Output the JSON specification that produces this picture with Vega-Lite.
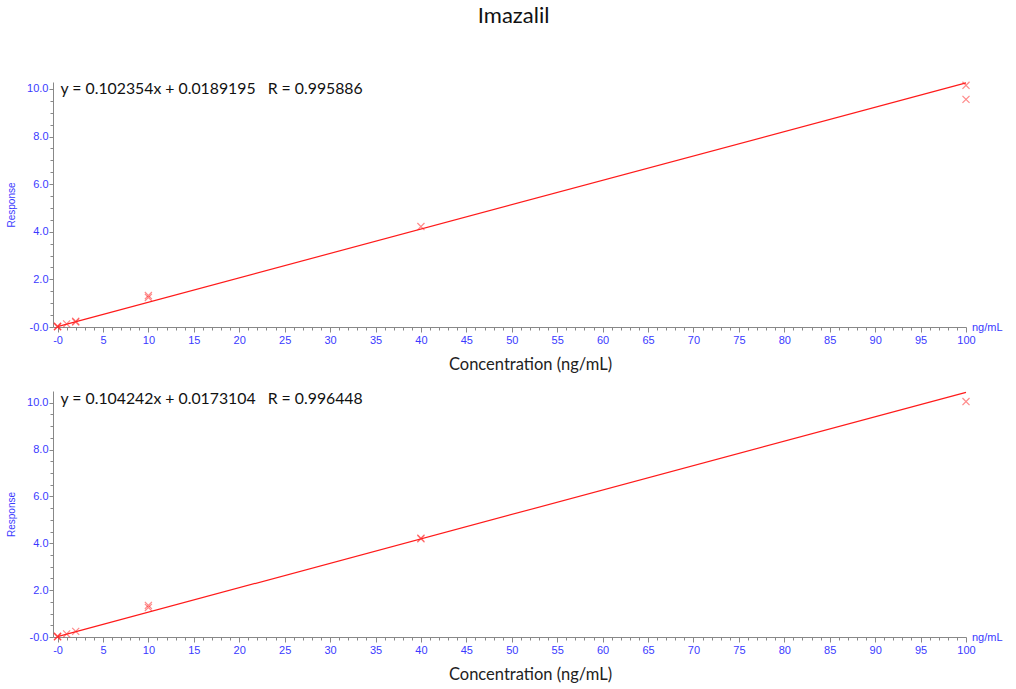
{
  "$schema": "https://vega.github.io/schema/vega-lite/v6.json",
  "background": "white",
  "padding": {"left": 6, "top": 5, "right": 5, "bottom": 5},
  "title": {
    "text": "Imazalil",
    "font": "Lato",
    "fontSize": 22,
    "fontWeight": "normal",
    "color": "#111111",
    "anchor": "middle",
    "dx": 9,
    "offset": 51
  },
  "config": {
    "view": {"stroke": null},
    "axis": {
      "grid": false,
      "domainColor": "#888888",
      "tickColor": "#888888",
      "labelColor": "#3a3aff",
      "labelFont": "Liberation Sans",
      "labelFontSize": 11,
      "labelFlush": false
    }
  },
  "spacing": 16,
  "vconcat": [
    {
      "width": 913,
      "height": 245,
      "data": {
        "values": [
          {"conc": 0, "resp": 0.01, "kind": "std"},
          {"conc": 0, "resp": 0.02, "kind": "std"},
          {"conc": 0, "resp": 0.03, "kind": "std"},
          {"conc": 1, "resp": 0.13, "kind": "std"},
          {"conc": 2, "resp": 0.21, "kind": "std"},
          {"conc": 2, "resp": 0.24, "kind": "std"},
          {"conc": 10, "resp": 1.32, "kind": "std"},
          {"conc": 10, "resp": 1.24, "kind": "std"},
          {"conc": 40, "resp": 4.22, "kind": "std"},
          {"conc": 100, "resp": 10.15, "kind": "std"},
          {"conc": 100, "resp": 9.56, "kind": "std"},
          {"conc": 0, "resp": 0.0189195, "kind": "fit"},
          {"conc": 100, "resp": 10.2543195, "kind": "fit"}
        ]
      },
      "encoding": {
        "x": {
          "field": "conc",
          "type": "quantitative",
          "scale": {"domain": [-0.5, 100], "nice": false, "zero": false},
          "axis": {
            "title": "Concentration (ng/mL)",
            "titleFont": "Lato",
            "titleFontSize": 16.5,
            "titleFontWeight": "normal",
            "titleColor": "#222222",
            "titlePadding": 11,
            "titleX": 477,
            "values": [0,1,2,3,4,5,6,7,8,9,10,11,12,13,14,15,16,17,18,19,20,21,22,23,24,25,26,27,28,29,30,31,32,33,34,35,36,37,38,39,40,41,42,43,44,45,46,47,48,49,50,51,52,53,54,55,56,57,58,59,60,61,62,63,64,65,66,67,68,69,70,71,72,73,74,75,76,77,78,79,80,81,82,83,84,85,86,87,88,89,90,91,92,93,94,95,96,97,98,99,100],
            "labelExpr": "datum.value === 0 ? '-0' : (datum.value % 5 === 0 ? datum.label : '')",
            "labelOverlap": false,
            "labelPadding": 2,
            "tickSize": {"condition": {"test": "datum.value % 5 === 0", "value": 5}, "value": 3}
          }
        },
        "y": {
          "field": "resp",
          "type": "quantitative",
          "scale": {"domain": [0, 10.29], "nice": false, "zero": false},
          "axis": {
            "title": "Response",
            "titleFont": "Liberation Sans",
            "titleFontSize": 10,
            "titleFontWeight": "normal",
            "titleColor": "#3a3aff",
            "titlePadding": 10,
            "values": [0,0.5,1,1.5,2,2.5,3,3.5,4,4.5,5,5.5,6,6.5,7,7.5,8,8.5,9,9.5,10],
            "labelExpr": "datum.value === 0 ? '-0.0' : (datum.value % 2 === 0 ? format(datum.value, '.1f') : '')",
            "labelOverlap": false,
            "labelPadding": 1,
            "tickSize": {"condition": {"test": "datum.value % 2 === 0", "value": 4}, "value": 3}
          }
        }
      },
      "layer": [
        {
          "transform": [{"filter": "datum.kind === 'fit'"}],
          "mark": {"type": "line", "color": "#ff1a1a", "strokeWidth": 1.2}
        },
        {
          "transform": [{"filter": "datum.kind === 'std'"}],
          "mark": {"type": "point", "shape": "M-1,-1L1,1M-1,1L1,-1", "filled": false, "size": 50, "strokeWidth": 1.2, "color": "#ff2a2a", "opacity": 0.55}
        },
        {
          "data": {"values": [{"label": "y = 0.102354x + 0.0189195\u00a0\u00a0\u00a0R = 0.995886", "conc": 0, "resp": 10}]},
          "mark": {"type": "text", "align": "left", "baseline": "middle", "dx": 3, "font": "Lato", "fontSize": 15.8, "color": "#111111"},
          "encoding": {"text": {"field": "label"}}
        },
        {
          "data": {"values": [{"label": "ng/mL", "conc": 100, "resp": 0}]},
          "mark": {"type": "text", "align": "left", "baseline": "middle", "dx": 6, "dy": 1, "font": "Liberation Sans", "fontSize": 11, "color": "#3a3aff"},
          "encoding": {"text": {"field": "label"}}
        }
      ]
    },
    {
      "width": 913,
      "height": 246,
      "data": {
        "values": [
          {"conc": 0, "resp": 0.01, "kind": "std"},
          {"conc": 0, "resp": 0.02, "kind": "std"},
          {"conc": 0, "resp": 0.03, "kind": "std"},
          {"conc": 1, "resp": 0.13, "kind": "std"},
          {"conc": 2, "resp": 0.24, "kind": "std"},
          {"conc": 10, "resp": 1.35, "kind": "std"},
          {"conc": 10, "resp": 1.26, "kind": "std"},
          {"conc": 40, "resp": 4.22, "kind": "std"},
          {"conc": 40, "resp": 4.19, "kind": "std"},
          {"conc": 100, "resp": 10.05, "kind": "std"},
          {"conc": 0, "resp": 0.0173104, "kind": "fit"},
          {"conc": 100, "resp": 10.4415104, "kind": "fit"}
        ]
      },
      "encoding": {
        "x": {
          "field": "conc",
          "type": "quantitative",
          "scale": {"domain": [-0.5, 100], "nice": false, "zero": false},
          "axis": {
            "title": "Concentration (ng/mL)",
            "titleFont": "Lato",
            "titleFontSize": 16.5,
            "titleFontWeight": "normal",
            "titleColor": "#222222",
            "titlePadding": 11,
            "titleX": 477,
            "values": [0,1,2,3,4,5,6,7,8,9,10,11,12,13,14,15,16,17,18,19,20,21,22,23,24,25,26,27,28,29,30,31,32,33,34,35,36,37,38,39,40,41,42,43,44,45,46,47,48,49,50,51,52,53,54,55,56,57,58,59,60,61,62,63,64,65,66,67,68,69,70,71,72,73,74,75,76,77,78,79,80,81,82,83,84,85,86,87,88,89,90,91,92,93,94,95,96,97,98,99,100],
            "labelExpr": "datum.value === 0 ? '-0' : (datum.value % 5 === 0 ? datum.label : '')",
            "labelOverlap": false,
            "labelPadding": 2,
            "tickSize": {"condition": {"test": "datum.value % 5 === 0", "value": 5}, "value": 3}
          }
        },
        "y": {
          "field": "resp",
          "type": "quantitative",
          "scale": {"domain": [0, 10.5], "nice": false, "zero": false},
          "axis": {
            "title": "Response",
            "titleFont": "Liberation Sans",
            "titleFontSize": 10,
            "titleFontWeight": "normal",
            "titleColor": "#3a3aff",
            "titlePadding": 10,
            "values": [0,0.5,1,1.5,2,2.5,3,3.5,4,4.5,5,5.5,6,6.5,7,7.5,8,8.5,9,9.5,10],
            "labelExpr": "datum.value === 0 ? '-0.0' : (datum.value % 2 === 0 ? format(datum.value, '.1f') : '')",
            "labelOverlap": false,
            "labelPadding": 1,
            "tickSize": {"condition": {"test": "datum.value % 2 === 0", "value": 4}, "value": 3}
          }
        }
      },
      "layer": [
        {
          "transform": [{"filter": "datum.kind === 'fit'"}],
          "mark": {"type": "line", "color": "#ff1a1a", "strokeWidth": 1.2}
        },
        {
          "transform": [{"filter": "datum.kind === 'std'"}],
          "mark": {"type": "point", "shape": "M-1,-1L1,1M-1,1L1,-1", "filled": false, "size": 50, "strokeWidth": 1.2, "color": "#ff2a2a", "opacity": 0.55}
        },
        {
          "data": {"values": [{"label": "y = 0.104242x + 0.0173104\u00a0\u00a0\u00a0R = 0.996448", "conc": 0, "resp": 10}]},
          "mark": {"type": "text", "align": "left", "baseline": "middle", "dx": 3, "dy": -4, "font": "Lato", "fontSize": 15.8, "color": "#111111"},
          "encoding": {"text": {"field": "label"}}
        },
        {
          "data": {"values": [{"label": "ng/mL", "conc": 100, "resp": 0}]},
          "mark": {"type": "text", "align": "left", "baseline": "middle", "dx": 6, "dy": 1, "font": "Liberation Sans", "fontSize": 11, "color": "#3a3aff"},
          "encoding": {"text": {"field": "label"}}
        }
      ]
    }
  ]
}
